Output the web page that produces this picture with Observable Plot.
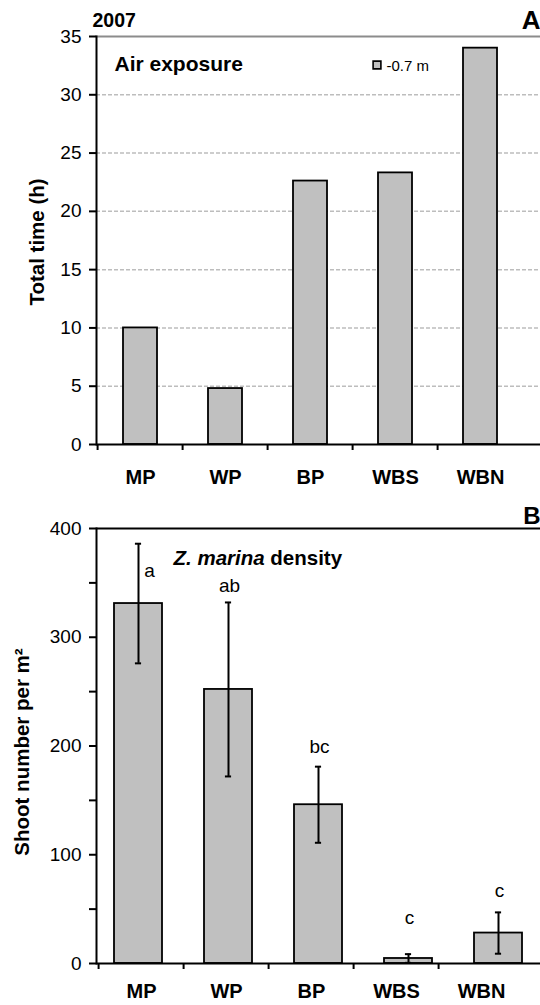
<!DOCTYPE html>
<html><head><meta charset="utf-8">
<script src="https://cdn.jsdelivr.net/npm/d3@7"></script>
<script src="https://cdn.jsdelivr.net/npm/@observablehq/plot@0.6"></script>
<style>
body{margin:0;background:#fff;}
#panelA{width:540px;height:492px;}
#panelB{position:relative;width:540px;height:513px;}
#panelB svg{position:absolute;left:0;top:0;}
</style></head><body>
<div id="panelA"></div>
<div id="panelB"></div>
<script>
// ---- data ----
const sites = ["MP", "WP", "BP", "WBS", "WBN"];
const airHours = [10, 4.8, 22.6, 23.3, 34];
const airTicks = [0, 5, 10, 15, 20, 25, 30, 35];
const airGrid = [5, 10, 15, 20, 25, 30];
const shootDensity = [331, 252, 146, 4.6, 28];
const shootSE = [55, 80, 35, 4, 19];
const letters = ["a", "ab", "bc", "c", "c"];
const letterY = [361, 347, 199, 42, 67];
const densityTicks = [0, 50, 100, 150, 200, 250, 300, 350, 400];
const yearText = "2007";
const panelA = "A", panelB = "B";
const airTitle = "Air exposure";
const legendText = "-0.7 m";
const yTitleA = "Total time (h)";
const yTitleB = "Shoot number per m\u00B2";

// ---- shared styling ----
const FONT = "'Liberation Sans', Arial, Helvetica, sans-serif";
const BAR = "#c0c0c0";
const W = 540;
const axisRange = [96, 525];
const axisStep = (axisRange[1] - axisRange[0]) / sites.length;
const barRangeB = [92, 543.25];

const airData = sites.map((s, i) => ({site: s, hours: airHours[i]}));
const densData = sites.map((s, i) => ({
  site: s, mean: shootDensity[i], lo: Math.max(0, shootDensity[i] - shootSE[i]),
  hi: shootDensity[i] + shootSE[i], letter: letters[i], ly: letterY[i]
}));

// ---- Panel A ----
const plotA = Plot.plot({
  width: W, height: 492,
  marginTop: 36, marginBottom: 48, marginLeft: 96, marginRight: 0,
  style: {fontFamily: FONT, fontSize: "19px", color: "#000", background: "#fff"},
  x: {domain: sites, range: axisRange, paddingInner: 0.6, paddingOuter: 0.3},
  y: {domain: [0, 35]},
  marks: [
    Plot.ruleY(airGrid, {stroke: "#bdbdbd", strokeWidth: 1.5, strokeDasharray: "4,2"}),
    Plot.ruleY([35], {stroke: "#8c8c8c", strokeWidth: 2}),
    Plot.barY(airData, {x: "site", y: "hours", fill: BAR, stroke: "#000", strokeWidth: 1.8}),
    Plot.ruleY([0], {stroke: "#000", strokeWidth: 2}),
    Plot.frame({anchor: "left", stroke: "#000", strokeWidth: 2}),
    Plot.axisY({ticks: airTicks, tickSize: 7, tickPadding: 8, strokeWidth: 2, label: null, fontSize: 19}),
    Plot.axisX({fill: "none", tickSize: 6, dx: -axisStep / 2, strokeWidth: 2, label: null}),
    Plot.axisX({tickSize: 0, tickPadding: 25, fontWeight: "bold", fontSize: 20, label: null}),
    Plot.text([yearText], {text: d => d, frameAnchor: "top-left", dx: -4, dy: -10, textAnchor: "start", lineAnchor: "bottom", fontWeight: "bold", fontSize: 19.5}),
    Plot.text([panelA], {text: d => d, frameAnchor: "top-right", dx: 0, dy: -8, textAnchor: "end", lineAnchor: "bottom", fontWeight: "bold", fontSize: 26}),
    Plot.text([airTitle], {text: d => d, frameAnchor: "top-left", dx: 18, dy: 34, textAnchor: "start", lineAnchor: "bottom", fontWeight: "bold", fontSize: 21}),
    Plot.dot([legendText], {frameAnchor: "top-left", dx: 280.5, dy: 28.5, symbol: "square", r: 4.4, fill: BAR, stroke: "#000", strokeWidth: 1.6}),
    Plot.text([legendText], {text: d => d, frameAnchor: "top-left", dx: 290, dy: 34, textAnchor: "start", lineAnchor: "bottom", fontSize: 15}),
    Plot.text([yTitleA], {text: d => d, frameAnchor: "left", dx: -59, dy: 1.5, rotate: -90, textAnchor: "middle", lineAnchor: "middle", fontWeight: "bold", fontSize: 20.5})
  ]
});
document.getElementById("panelA").appendChild(plotA);

// ---- Panel B (bars) ----
const bStep = (barRangeB[1] - barRangeB[0]) / sites.length;
const bBand = bStep * 0.53;
const capInset = (bBand - 6) / 2;
const plotB = Plot.plot({
  width: W, height: 513,
  marginTop: 36, marginBottom: 42, marginLeft: 96, marginRight: 0,
  style: {fontFamily: FONT, fontSize: "19px", color: "#000", background: "#fff"},
  x: {domain: sites, range: barRangeB, paddingInner: 0.47, paddingOuter: 0.235, axis: null},
  y: {domain: [0, 400]},
  marks: [
    Plot.barY(densData, {x: "site", y: "mean", fill: BAR, stroke: "#000", strokeWidth: 1.8}),
    Plot.ruleX(densData, {x: "site", y1: "lo", y2: "hi", stroke: "#000", strokeWidth: 2}),
    Plot.tickY(densData, {x: "site", y: "hi", insetLeft: capInset, insetRight: capInset, stroke: "#000", strokeWidth: 2}),
    Plot.tickY(densData, {x: "site", y: "lo", insetLeft: capInset, insetRight: capInset, stroke: "#000", strokeWidth: 2}),
    Plot.ruleY([0], {stroke: "#000", strokeWidth: 2}),
    Plot.ruleY([400], {stroke: "#000", strokeWidth: 2}),
    Plot.frame({anchor: "left", stroke: "#000", strokeWidth: 2}),
    Plot.axisY({ticks: densityTicks, tickFormat: d => (d % 100 === 0 ? d : ""), tickSize: 7, tickPadding: 8, strokeWidth: 2, label: null, fontSize: 19}),
    Plot.text(densData, {filter: (d, i) => i === 0, x: "site", y: "ly", text: "letter", dx: 11, fontSize: 19, lineAnchor: "middle"}),
    Plot.text(densData, {filter: (d, i) => i > 0, x: "site", y: "ly", text: "letter", dx: 1, fontSize: 19, lineAnchor: "middle"}),
    Plot.text(["Z. marina"], {text: d => d, frameAnchor: "top-left", dx: 77, dy: 36, textAnchor: "start", lineAnchor: "bottom", fontWeight: "bold", fontStyle: "italic", fontSize: 20.5}),
    Plot.text(["density"], {text: d => d, frameAnchor: "top-left", dx: 173.8, dy: 36, textAnchor: "start", lineAnchor: "bottom", fontWeight: "bold", fontSize: 20.5}),
    Plot.text([panelB], {text: d => d, frameAnchor: "top-right", dx: 0, dy: -5, textAnchor: "end", lineAnchor: "bottom", fontWeight: "bold", fontSize: 24}),
    Plot.text([yTitleB], {text: d => d, frameAnchor: "left", dx: -74, dy: 6, rotate: -90, textAnchor: "middle", lineAnchor: "middle", fontWeight: "bold", fontSize: 20.5})
  ]
});
document.getElementById("panelB").appendChild(plotB);

// ---- Panel B (category axis, same layout as panel A) ----
const plotBAxis = Plot.plot({
  width: W, height: 513,
  marginTop: 36, marginBottom: 42, marginLeft: 96, marginRight: 0,
  style: {fontFamily: FONT, fontSize: "19px", color: "#000", background: "transparent"},
  x: {domain: sites, range: axisRange, paddingInner: 0.6, paddingOuter: 0.3},
  y: {domain: [0, 400], axis: null},
  marks: [
    Plot.axisX({fill: "none", tickSize: 6, dx: -axisStep / 2, strokeWidth: 2, label: null}),
    Plot.axisX({tickSize: 0, tickPadding: 20, fontWeight: "bold", fontSize: 20, label: null})
  ]
});
document.getElementById("panelB").appendChild(plotBAxis);
</script>
</body></html>
